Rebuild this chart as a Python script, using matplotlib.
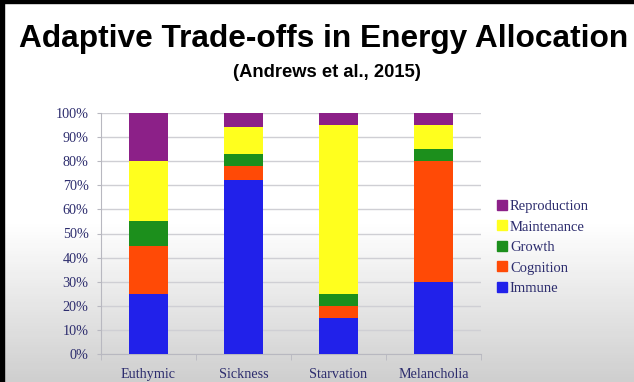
import numpy as np
import matplotlib
matplotlib.use('Agg')
import matplotlib.pyplot as plt
from matplotlib.lines import Line2D
from matplotlib.patches import Rectangle

# data (percent of energy)
categories = ['Euthymic', 'Sickness', 'Starvation', 'Melancholia']
series = ['Immune', 'Cognition', 'Growth', 'Maintenance', 'Reproduction']
immune = [25, 72, 15, 30]
cognition = [20, 6, 5, 50]
growth = [10, 5, 5, 5]
maintenance = [25, 11, 70, 10]
reproduction = [20, 6, 5, 5]
yticks = [0, 10, 20, 30, 40, 50, 60, 70, 80, 90, 100]

colors = ['#2121ea', '#ff4a06', '#1c8f1c', '#ffff1e', '#8c2088']
navy = '#2d2d6e'

W, H = 634, 382
fig = plt.figure(figsize=(W / 100, H / 100), dpi=100, facecolor='white')

# slide background: white with grey fade toward the bottom (drawn in strips)
n = 60
for i in range(n):
    y0 = i / n * 0.42
    g = 0.81 + 0.19 * (i / (n - 1))
    fig.patches.append(Rectangle((0, y0), 1, 0.42 / n + 0.002,
                                 transform=fig.transFigure,
                                 facecolor=(g, g, g), edgecolor='none',
                                 zorder=-10))

# black video border at left and top
fig.patches.append(Rectangle((0, 0), 4 / W, 1, transform=fig.transFigure,
                             color='black', zorder=5))
fig.patches.append(Rectangle((0, 1 - 3 / H), 1, 3 / H, transform=fig.transFigure,
                             color='black', zorder=5))

fig.text(0.510, 0.897, 'Adaptive Trade-offs in Energy Allocation', ha='center',
         va='center', fontsize=22.8, fontweight='bold', family='Liberation Sans',
         color='black')
fig.text(0.515, 0.809, '(Andrews et al., 2015)', ha='center', va='center',
         fontsize=13.2, fontweight='bold', family='Liberation Sans', color='black')

ax = fig.add_axes([101 / W, 1 - 354 / H, 380 / W, 241 / H])
ax.patch.set_alpha(0)

x = np.arange(len(categories))
data = [immune, cognition, growth, maintenance, reproduction]
bottom = np.zeros(len(categories))
for vals, c, name in zip(data, colors, series):
    ax.bar(x, vals, width=0.41, bottom=bottom, color=c, label=name, zorder=3)
    bottom += np.array(vals)

ax.set_xlim(-0.5, 3.5)
ax.set_ylim(0, 100)
ax.set_yticks(yticks)
ax.set_yticklabels(['%d%%' % v for v in yticks])
ax.yaxis.grid(True, color='#cfcfd4', linewidth=1, zorder=0)
ax.set_xticks(x)
ax.set_xticklabels(categories)
ax.set_xticks(np.arange(-0.5, 4, 1), minor=True)
ax.tick_params(axis='x', which='major', length=0, pad=10)
ax.tick_params(axis='x', which='minor', length=4, color='#b8b8c0')
ax.tick_params(axis='y', length=3, color='#b8b8c0', pad=6)
for lab in ax.get_xticklabels() + ax.get_yticklabels():
    lab.set_family('Liberation Serif')
    lab.set_fontsize(10.2)
    lab.set_color(navy)
for s in ['top', 'right']:
    ax.spines[s].set_visible(False)
ax.spines['left'].set_color('#b8b8c0')
ax.spines['bottom'].set_color('#b8b8c0')

handles = [Line2D([], [], marker='s', linestyle='none', markersize=6.5,
                  markerfacecolor=c, markeredgecolor=c) for c in colors]
leg = fig.legend(handles[::-1], series[::-1], loc='upper left',
                 bbox_to_anchor=(491 / W, 1 - 194 / H), frameon=False,
                 prop={'family': 'Liberation Serif', 'size': 10.5},
                 handlelength=0.7, handletextpad=0.2, labelspacing=0.5,
                 borderaxespad=0)
for t in leg.get_texts():
    t.set_color(navy)

fig.savefig('out.png', dpi=100, facecolor='white')
